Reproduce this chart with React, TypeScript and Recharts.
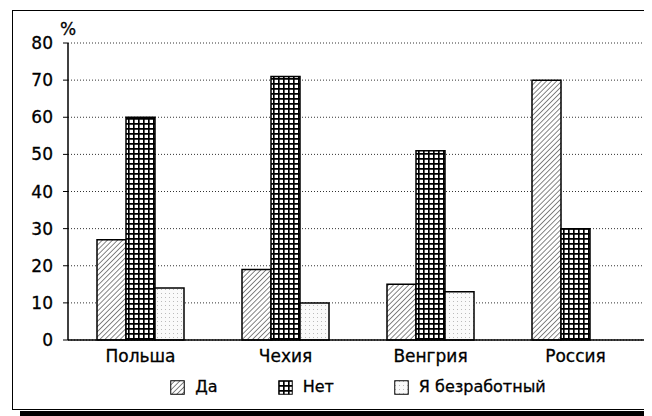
import React from "react";
import {
  BarChart,
  Bar,
  XAxis,
  YAxis,
  CartesianGrid,
  Legend,
} from "recharts";

const countries = ["Польша", "Чехия", "Венгрия", "Россия"];
const yes = [27, 19, 15, 70];
const no = [60, 71, 51, 30];
const unemployed: (number | null)[] = [14, 10, 13, null];
const yTicks = [0, 10, 20, 30, 40, 50, 60, 70, 80];

const seriesNames = ["Да", "Нет", "Я безработный"];
const fills = ["url(#hatch)", "url(#grid)", "url(#dots)"];

const data = countries.map((c, i) => ({
  country: c,
  yes: yes[i],
  no: no[i],
  unemployed: unemployed[i],
}));

const font = "'DejaVu Sans', Verdana, sans-serif";
const tickStyle = { fill: "#000", stroke: "#000", strokeWidth: 0.3, fontSize: 17, fontFamily: font };

const Patterns = () => (
  <svg width={0} height={0} style={{ position: "absolute" }}>
    <defs>
      <pattern id="hatch" width="3.6" height="3.6" patternUnits="userSpaceOnUse" patternTransform="rotate(45)">
        <rect width="3.6" height="3.6" fill="#fff" />
        <line x1="0" y1="0" x2="0" y2="3.6" stroke="#222" strokeWidth="1.1" />
      </pattern>
      <pattern id="grid" width="5" height="5" patternUnits="userSpaceOnUse">
        <rect width="5" height="5" fill="#fff" />
        <path d="M0 0.8 H5 M0.8 0 V5" stroke="#000" strokeWidth="1.7" />
      </pattern>
      <pattern id="dots" width="4" height="4" patternUnits="userSpaceOnUse">
        <rect width="4" height="4" fill="#fafafa" />
        <rect x="1" y="1" width="1" height="1" fill="#bbb" />
      </pattern>
    </defs>
  </svg>
);

const LegendContent = () => (
  <div
    style={{
      display: "flex",
      justifyContent: "center",
      gap: 60,
      fontFamily: font,
      fontSize: 16,
      lineHeight: "20px",
      color: "#000",
      WebkitTextStroke: "0.3px #000",
    }}
  >
    {seriesNames.map((n, i) => (
      <div key={n} style={{ display: "flex", alignItems: "center", gap: 10 }}>
        <svg width={15} height={15}>
          <rect x={0.75} y={0.75} width={13.5} height={13.5} fill={fills[i]} stroke="#000" strokeWidth={1} />
        </svg>
        <span>{n}</span>
      </div>
    ))}
  </div>
);

export default function App() {
  return (
    <div style={{ position: "relative", width: 644, height: 408, background: "#fff" }}>
      <Patterns />
      <div
        style={{
          position: "absolute",
          left: 4,
          top: 2,
          width: 640,
          height: 398,
          borderTop: "1px solid #000",
          borderLeft: "1px solid #000",
          borderBottom: "1px solid #000",
        }}
      />
      <div
        style={{
          position: "absolute",
          left: 12,
          top: 403,
          width: 632,
          height: 5,
          background: "#000",
        }}
      />
      <div
        style={{
          position: "absolute",
          left: 52,
          top: 11,
          fontFamily: font,
          fontSize: 17,
          color: "#000",
          WebkitTextStroke: "0.3px #000",
        }}
      >
        %
      </div>
      <BarChart
        width={644}
        height={408}
        data={data}
        margin={{ top: 35, right: 4, left: 0, bottom: 19 }}
        barCategoryGap={29}
        barGap={0}
        style={{ position: "absolute", left: 0, top: 0 }}
      >
        <CartesianGrid vertical={false} stroke="#333" strokeDasharray="1 2" />
        <XAxis
          dataKey="country"
          height={37}
          tickLine={false}
          axisLine={{ stroke: "#000", strokeWidth: 1.5 }}
          tick={tickStyle}
          tickSize={6}
          tickMargin={4}
        />
        <YAxis
          width={60}
          domain={[0, 80]}
          ticks={yTicks}
          interval={0}
          axisLine={{ stroke: "#000", strokeWidth: 1.5 }}
          tickLine={{ stroke: "#000" }}
          tickSize={5}
          tickMargin={10}
          tick={tickStyle}
        />
        <Legend
          verticalAlign="bottom"
          height={20}
          wrapperStyle={{ left: 60, width: 580 }}
          content={<LegendContent />}
        />
        <Bar dataKey="yes" name={seriesNames[0]} fill={fills[0]} stroke="#000" strokeWidth={1.5} isAnimationActive={false} />
        <Bar dataKey="no" name={seriesNames[1]} fill={fills[1]} stroke="#000" strokeWidth={1.5} isAnimationActive={false} />
        <Bar dataKey="unemployed" name={seriesNames[2]} fill={fills[2]} stroke="#000" strokeWidth={1.5} isAnimationActive={false} />
      </BarChart>
    </div>
  );
}
